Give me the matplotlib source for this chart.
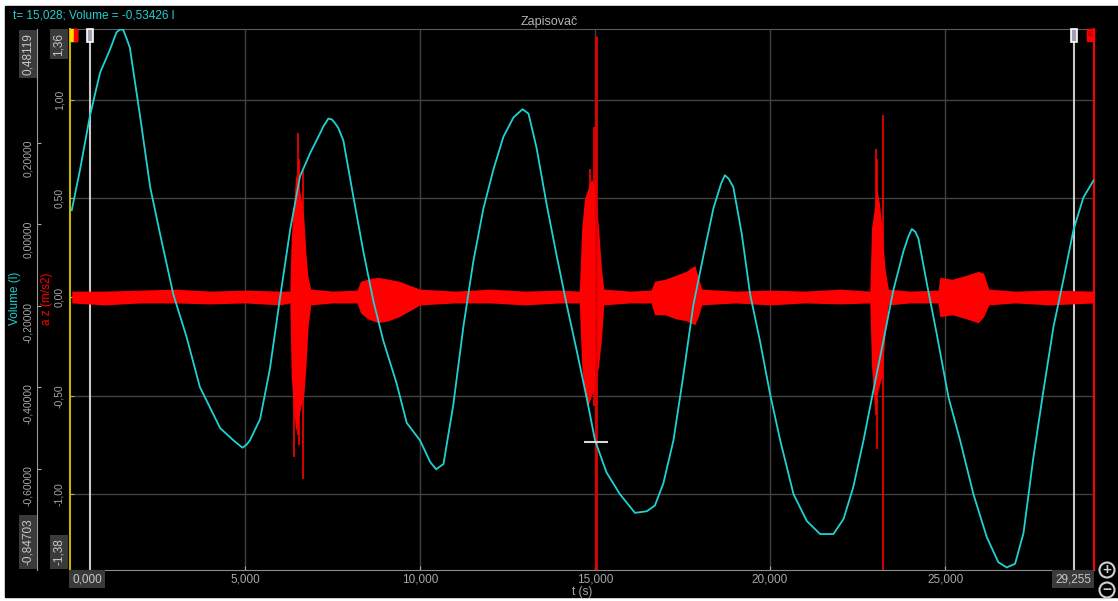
import matplotlib
matplotlib.use("Agg")
import matplotlib.pyplot as plt
from matplotlib.patches import Rectangle, Circle
from matplotlib.transforms import blended_transform_factory

plt.rcParams['font.family'] = ['Liberation Sans', 'DejaVu Sans']

W, H = 1118, 601

# Volume (l) vs t (s)
vol_t = [0.05, 0.29, 0.57, 0.86, 1.14, 1.33, 1.43, 1.52, 1.62, 1.71, 2.0, 2.29,
         2.57, 2.95, 3.33, 3.71, 4.29, 4.48, 4.67, 4.81, 4.93, 5.05, 5.14, 5.43,
         5.71, 6.0, 6.29, 6.57, 6.86, 7.14, 7.24, 7.38, 7.48, 7.57, 7.67, 7.81,
         8.10, 8.38, 8.67, 8.95, 9.33, 9.62, 10.0, 10.29, 10.46, 10.67, 10.95,
         11.24, 11.52, 11.81, 12.10, 12.38, 12.67, 12.93, 13.10, 13.33, 13.62,
         13.90, 14.19, 14.48, 14.76, 15.0, 15.33, 15.71, 16.14, 16.48, 16.71,
         16.95, 17.24, 17.52, 17.81, 18.10, 18.38, 18.60, 18.71, 18.82, 18.95,
         19.19, 19.43, 19.71, 20.0, 20.29, 20.67, 21.05, 21.43, 21.81, 22.10,
         22.38, 22.67, 22.95, 23.24, 23.52, 23.81, 23.95, 24.05, 24.15, 24.24,
         24.48, 24.76, 25.10, 25.43, 25.81, 26.19, 26.52, 26.76, 27.0, 27.24,
         27.52, 27.81, 28.10, 28.38, 28.67, 28.95, 29.24]
vol = [0.035, 0.136, 0.267, 0.373, 0.429, 0.472, 0.479, 0.478, 0.456, 0.434,
       0.267, 0.092, -0.022, -0.171, -0.276, -0.399, -0.500, -0.515, -0.530,
       -0.540, -0.548, -0.540, -0.530, -0.478, -0.355, -0.180, -0.013, 0.118,
       0.175, 0.223, 0.241, 0.260, 0.258, 0.249, 0.236, 0.206, 0.066, -0.066,
       -0.189, -0.285, -0.390, -0.487, -0.530, -0.583, -0.601, -0.588, -0.443,
       -0.250, -0.092, 0.039, 0.136, 0.215, 0.263, 0.283, 0.272, 0.188, 0.048,
       -0.075, -0.197, -0.311, -0.425, -0.530, -0.609, -0.662, -0.708, -0.704,
       -0.690, -0.636, -0.530, -0.372, -0.197, -0.075, 0.039, 0.100, 0.121,
       0.112, 0.092, -0.022, -0.171, -0.285, -0.416, -0.530, -0.662, -0.728,
       -0.760, -0.760, -0.723, -0.644, -0.530, -0.408, -0.285, -0.162, -0.066,
       -0.030, -0.011, -0.018, -0.035, -0.145, -0.268, -0.425, -0.530, -0.662,
       -0.767, -0.829, -0.842, -0.833, -0.758, -0.574, -0.408, -0.250, -0.136,
       -0.013, 0.066, 0.108]

# a z (m/s2): envelope of the acceleration trace
az_t = [0.05, 1.0, 2.0, 3.0, 4.0, 5.0, 6.0, 6.28, 6.32, 6.38, 6.45, 6.52, 6.60,
        6.68, 6.74, 6.80, 6.88, 7.5, 8.2, 8.3, 8.5, 8.8, 9.1, 9.4, 9.7, 10.0,
        11.0, 12.0, 13.0, 14.0, 14.55, 14.62, 14.70, 14.80, 14.90, 15.00, 15.10,
        15.18, 15.25, 16.0, 16.6, 16.7, 17.0, 17.3, 17.6, 17.85, 17.95, 18.05,
        19.0, 20.0, 21.0, 22.0, 22.85, 22.90, 22.98, 23.05, 23.12, 23.20, 23.28,
        23.38, 24.0, 24.8, 24.85, 25.2, 25.6, 25.95, 26.1, 26.25, 27.0, 28.0,
        29.255]
az_hi = [0.03, 0.03, 0.035, 0.04, 0.03, 0.035, 0.03, 0.03, 0.30, 0.45, 0.62,
         0.58, 0.50, 0.40, 0.22, 0.10, 0.04, 0.03, 0.035, 0.08, 0.09, 0.10, 0.09,
         0.08, 0.06, 0.04, 0.03, 0.04, 0.03, 0.035, 0.03, 0.35, 0.50, 0.55, 0.60,
         0.55, 0.35, 0.15, 0.04, 0.03, 0.035, 0.08, 0.09, 0.11, 0.13, 0.16, 0.10,
         0.04, 0.03, 0.035, 0.03, 0.04, 0.03, 0.35, 0.45, 0.55, 0.48, 0.35, 0.15,
         0.04, 0.03, 0.035, 0.10, 0.09, 0.11, 0.13, 0.12, 0.04, 0.03, 0.035,
         0.03]
az_lo = [-0.03, -0.04, -0.03, -0.03, -0.035, -0.03, -0.04, -0.03, -0.40, -0.55,
         -0.68, -0.62, -0.55, -0.50, -0.35, -0.15, -0.04, -0.03, -0.03, -0.08,
         -0.11, -0.13, -0.12, -0.10, -0.07, -0.04, -0.03, -0.03, -0.04, -0.03,
         -0.03, -0.35, -0.48, -0.55, -0.50, -0.45, -0.35, -0.22, -0.04, -0.03,
         -0.03, -0.09, -0.09, -0.11, -0.12, -0.14, -0.10, -0.04, -0.03, -0.04,
         -0.03, -0.035, -0.03, -0.35, -0.55, -0.50, -0.45, -0.40, -0.20, -0.04,
         -0.03, -0.03, -0.10, -0.09, -0.11, -0.13, -0.10, -0.04, -0.03, -0.04,
         -0.03]

# single peaks sticking out of the bursts
spike_t = [6.41, 6.50, 6.55, 6.67, 14.81, 14.86, 14.97, 23.03, 23.06, 23.22]
spike_hi = [0.45, 0.83, 0.70, 0.64, 0.40, 0.65, 0.86, 0.75, 0.70, 0.92]
spike_lo = [-0.81, -0.70, -0.75, -0.92, -0.55, -0.50, -0.55, -0.60, -0.77, -1.38]

az_ticks = [-1.0, -0.5, 0.0, 0.5, 1.0]
az_labels = ["-1,00", "-0,50", "0,00", "0,50", "1,00"]
vol_ticks = [0.2, 0.0, -0.2, -0.4, -0.6]
vol_labels = ["0,20000", "0,00000", "-0,20000", "-0,40000", "-0,60000"]
t_ticks = [5, 10, 15, 20, 25]
t_labels = ["5,000", "10,000", "15,000", "20,000", "25,000"]

t_min, t_max = 0.0, 29.255
az_min, az_max = -1.38, 1.36
vol_min, vol_max = -0.84703, 0.48119
cursor_t, cursor_vol = 15.028, -0.53426
marker_a, marker_b = 0.571, 28.69

CYAN = '#1fd2d2'
GRAY_TXT = '#a8a8a8'
BOX = '#3a3a3a'


def fx(x):
    return x / W


def fy(y):
    return 1 - y / H


fig = plt.figure(figsize=(W / 100, H / 100), dpi=100, facecolor='white')
fig.add_artist(Rectangle((fx(5), fy(597)), 1, (597 - 6) / H,
                         transform=fig.transFigure, color='black', zorder=0))

ax = fig.add_axes([fx(70), fy(569.5), 1024 / W, 541 / H])
ax.set_facecolor('black')
ax.set_xlim(t_min, t_max)
ax.set_ylim(az_min, az_max)
ax.set_axisbelow(True)
ax.grid(True, color='#424242', lw=1)

ax.fill_between(az_t, az_lo, az_hi, color='red', lw=0, zorder=2)
ax.vlines(spike_t, spike_lo, spike_hi, color='red', lw=1.2, zorder=2)

# measuring cursors
ax.axvline(marker_a, color='#c8c8c8', lw=1.5, zorder=1.5)
ax.axvline(marker_b, color='#c8c8c8', lw=1.5, zorder=1.5)
ax.vlines(cursor_t, az_min, 1.32, color='#e00000', lw=2, zorder=3)

ax.set_xticks(t_ticks)
ax.set_xticklabels(t_labels)
ax.set_yticks(az_ticks)
ax.set_yticklabels(az_labels)
ax.tick_params(axis='x', colors=GRAY_TXT, labelsize=8.5, length=3,
               direction='in', pad=3)
ax.tick_params(axis='y', colors=GRAY_TXT, labelsize=7.5, length=3,
               direction='in', pad=4, labelrotation=90)
for lab in ax.get_yticklabels():
    lab.set_va('center')

ax.spines['top'].set_color('#5a5a5a')
ax.spines['bottom'].set_color('#8c8c8c')
ax.spines['left'].set_color('#c8b400')
ax.spines['left'].set_linewidth(1.5)
ax.spines['right'].set_color('red')
ax.spines['right'].set_linewidth(1.5)

# Volume on its own axis to the left
ax2 = ax.twinx()
ax2.set_ylim(vol_min, vol_max)
ax2.plot(vol_t, vol, color=CYAN, lw=1.3, zorder=4)
ax2.hlines(cursor_vol, 14.69, 15.37, color='#d8d8d8', lw=1.5, zorder=5)
ax2.yaxis.tick_left()
ax2.set_yticks(vol_ticks)
ax2.set_yticklabels(vol_labels)
ax2.tick_params(axis='y', colors=GRAY_TXT, labelsize=7.5, length=3,
                direction='in', pad=3, labelrotation=90)
for lab in ax2.get_yticklabels():
    lab.set_va('center')
for side in ['top', 'bottom', 'right']:
    ax2.spines[side].set_visible(False)
ax2.spines['left'].set_position(('outward', 33 * 0.72))
ax2.spines['left'].set_color('#9a9a9a')

# flags at the top of the cursors
tr = blended_transform_factory(ax.transData, ax.transAxes)
ax.add_patch(Rectangle((0, 1 - 12 / 541), 0.2, 12 / 541, transform=tr,
                       color='#ffd800', clip_on=False, zorder=6))
ax.add_patch(Rectangle((0.1, 1 - 12 / 541), 0.1, 12 / 541, transform=tr,
                       color='red', clip_on=False, zorder=6))
for m in [marker_a, marker_b]:
    ax.add_patch(Rectangle((m - 0.09, 1 - 13 / 541), 0.18, 13 / 541,
                           transform=tr, facecolor='#a0a0b0', edgecolor='white',
                           lw=1.2, clip_on=False, zorder=6))
ax.add_patch(Rectangle((t_max - 0.2, 1 - 12 / 541), 0.2, 12 / 541,
                       transform=tr, color='red', clip_on=False, zorder=6))
ax.text(t_max - 0.1, 1 - 6 / 541, 'E', transform=tr, color='#900000',
        fontsize=6, ha='center', va='center', zorder=7)

# boxed range labels
box = dict(facecolor=BOX, edgecolor='none', pad=2.5)
fig.text(fx(28), fy(54), '0,48119', rotation=90, ha='center', va='center',
         color='#c8c8c8', fontsize=8.5, bbox=box)
fig.text(fx(28), fy(542), '-0,84703', rotation=90, ha='center', va='center',
         color='#c8c8c8', fontsize=8.5, bbox=box)
fig.text(fx(59), fy(44), '1,36', rotation=90, ha='center', va='center',
         color='#c8c8c8', fontsize=8.5, bbox=box)
fig.text(fx(59), fy(552), '-1,38', rotation=90, ha='center', va='center',
         color='#c8c8c8', fontsize=8.5, bbox=box)
fig.text(fx(87), fy(579), '0,000', ha='center', va='center',
         color='#c8c8c8', fontsize=8.5, bbox=box)
fig.text(fx(1073), fy(579), '29,255', ha='center', va='center',
         color='#c8c8c8', fontsize=8.5, bbox=box)

fig.text(fx(15), fy(298), 'Volume (l)', rotation=90, ha='center',
         va='center', color=CYAN, fontsize=8.5)
fig.text(fx(47), fy(299), 'a z (m/s2)', rotation=90, ha='center',
         va='center', color='red', fontsize=8.5)
fig.text(fx(582), fy(592), 't (s)', ha='center', va='center',
         color=GRAY_TXT, fontsize=8.5)
fig.text(fx(549), fy(22), 'Zapisovač', ha='center', va='center',
         color='#b4b4b4', fontsize=9)
fig.text(fx(13), fy(15), 't= 15,028; Volume = -0,53426 l', ha='left',
         va='center', color=CYAN, fontsize=8.5)

# zoom buttons
for yy, sign in [(570, '+'), (590, '−')]:
    fig.add_artist(Circle((1107 / 100, (H - yy) / 100), 0.075,
                          transform=fig.dpi_scale_trans, facecolor='black',
                          edgecolor='#d0d0d0', lw=1.5))
    fig.text(fx(1107), fy(yy), sign, ha='center', va='center',
             color='#d0d0d0', fontsize=11, fontweight='bold')

fig.savefig('out.png', dpi=100, facecolor='white')
